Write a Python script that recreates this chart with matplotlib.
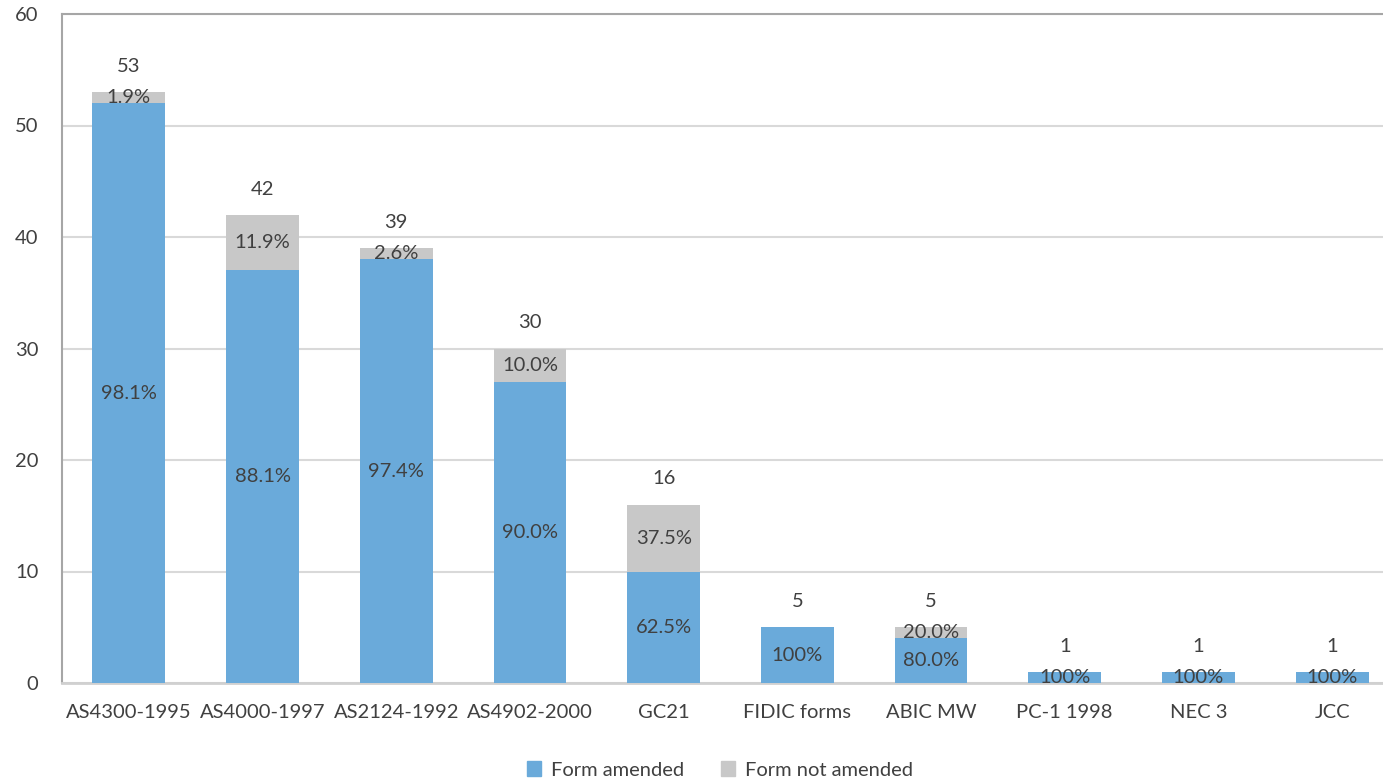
import matplotlib
matplotlib.use("Agg")
import matplotlib.pyplot as plt
from matplotlib.patches import Patch

categories = ["AS4300-1995", "AS4000-1997", "AS2124-1992", "AS4902-2000", "GC21",
              "FIDIC forms", "ABIC MW", "PC-1 1998", "NEC 3", "JCC"]
amended = [52, 37, 38, 27, 10, 5, 4, 1, 1, 1]
not_amended = [1, 5, 1, 3, 6, 0, 1, 0, 0, 0]
amended_pct = ["98.1%", "88.1%", "97.4%", "90.0%", "62.5%", "100%", "80.0%", "100%", "100%", "100%"]
not_amended_pct = ["1.9%", "11.9%", "2.6%", "10.0%", "37.5%", "", "20.0%", "", "", ""]
totals = [a + b for a, b in zip(amended, not_amended)]
yticks = [0, 10, 20, 30, 40, 50, 60]

plt.rcParams['font.family'] = ['Lato', 'DejaVu Sans']
TXT = "#404040"
BLUE = "#6AAADA"
GREY = "#C8C8C8"

fig = plt.figure(figsize=(13.83, 7.82), dpi=100)
W, H = 1383, 782
ax = fig.add_axes([62 / W, 1 - 683 / H, (1399 - 62) / W, (683 - 14) / H])

x = list(range(len(categories)))
bw = 0.545
ax.bar(x, amended, width=bw, color=BLUE, label="Form amended", zorder=3)
ax.bar(x, not_amended, width=bw, bottom=amended, color=GREY, label="Form not amended", zorder=3)

fs = 14.5
for i in x:
    ax.text(i, amended[i] / 2, amended_pct[i], ha="center", va="center", fontsize=fs, color=TXT, zorder=5)
    if not_amended[i] > 0:
        ax.text(i, amended[i] + not_amended[i] / 2, not_amended_pct[i], ha="center", va="center",
                fontsize=fs, color=TXT, zorder=5)
    ax.text(i, totals[i] + 2.3, str(totals[i]), ha="center", va="center", fontsize=fs, color=TXT, zorder=5)

ax.set_xlim(-0.5, len(categories) - 0.5)
ax.set_ylim(0, 60)
ax.set_yticks(yticks)
ax.set_xticks(x)
ax.set_xticklabels(categories)
ax.tick_params(axis="both", length=0, labelsize=fs, colors=TXT)
ax.tick_params(axis="x", pad=15)
ax.tick_params(axis="y", pad=17)
ax.grid(axis="y", color="#D9D9D9", linewidth=1.5, zorder=0)
ax.spines["left"].set_color("#A6A6A6")
ax.spines["left"].set_linewidth(1.5)
ax.spines["top"].set_color("#A6A6A6")
ax.spines["top"].set_linewidth(1.5)
ax.spines["bottom"].set_color("#D0D0D0")
ax.spines["bottom"].set_linewidth(2)
ax.spines["right"].set_visible(False)

handles = [Patch(color=BLUE, label="Form amended"), Patch(color=GREY, label="Form not amended")]
fig.legend(handles=handles, loc="center", bbox_to_anchor=(((520 + 920) / 2) / W, 1 - 770 / H), ncol=2,
           frameon=False, fontsize=fs, labelcolor=TXT, handlelength=0.7, handleheight=0.7,
           handletextpad=0.5, columnspacing=1.8)

fig.savefig("out.png", dpi=100)
